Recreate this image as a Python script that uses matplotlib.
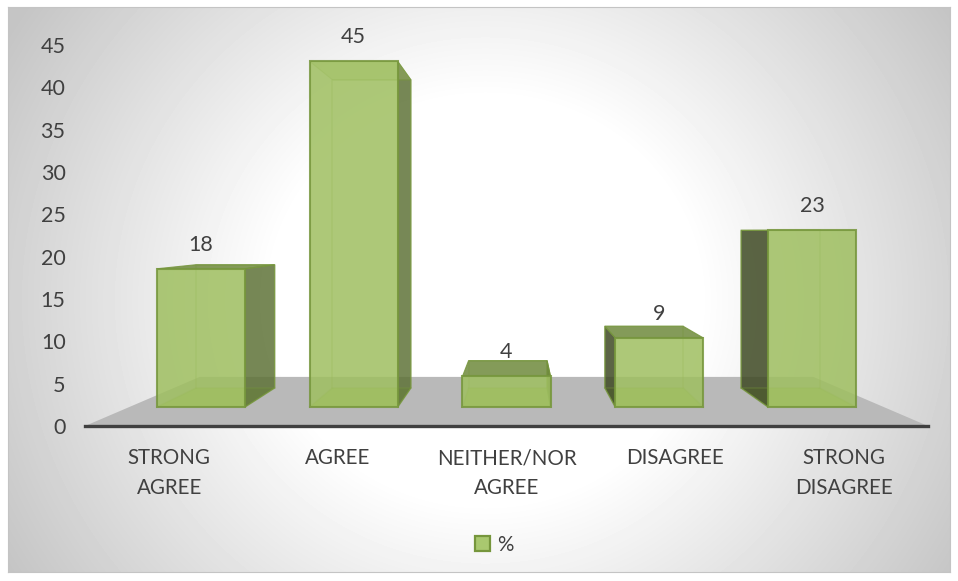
import numpy as np
import matplotlib
matplotlib.use("Agg")
import matplotlib.pyplot as plt
from matplotlib.patches import Polygon, Patch

categories = ["STRONG\nAGREE", "AGREE", "NEITHER/NOR\nAGREE", "DISAGREE", "STRONG\nDISAGREE"]
values = [18, 45, 4, 9, 23]
y_ticks = [0, 5, 10, 15, 20, 25, 30, 35, 40, 45]
series_name = "%"

W, H = 958, 581
plt.rcParams["font.family"] = ["Lato", "DejaVu Sans"]
TXT = "#404040"
fig = plt.figure(figsize=(W / 100, H / 100), dpi=100, facecolor="white")

# background panel with radial gradient
bg = fig.add_axes([8 / W, 1 - 572 / H, 942 / W, 565 / H])
yy, xx = np.mgrid[7:572, 8:950]
r = np.hypot((xx - 485) / 475, (yy - 300) / 450)
g = np.clip((r - 0.45) / 0.72, 0, 1)
shade = 1 - g * 0.23
bg.imshow(shade, cmap="gray", vmin=0, vmax=1, aspect="auto", interpolation="bilinear")
bg.set_xticks([]); bg.set_yticks([])
for s in bg.spines.values():
    s.set_color("#c4c4c4"); s.set_linewidth(0.8)

# plot axes: x axis spans 85..928 px, y=0 at 426 px, y=45 at 45 px
ax = fig.add_axes([85 / W, 1 - 426 / H, 843 / W, 381 / H])
ax.patch.set_alpha(0)
ax.set_xlim(-0.5, 4.5)
ax.set_ylim(0, 45)
ax.set_xticks(range(len(categories)))
ax.set_xticklabels(categories, fontsize=14.8, color=TXT, linespacing=1.62)
ax.set_yticks(y_ticks)
ax.tick_params(axis="y", length=0, labelsize=15.5, labelcolor=TXT, pad=14)
ax.tick_params(axis="x", length=0, pad=16)
for s in ("top", "left", "right"):
    ax.spines[s].set_visible(False)
ax.spines["bottom"].set_color("#404040")
ax.spines["bottom"].set_linewidth(2.4)
ax.spines["bottom"].set_zorder(6)

# perspective of the pseudo-3D box
VX, VY, S = 2.074, 23.03, 0.892          # vanishing point and depth scale
BASE, K = 2.244, 0.907                   # front-face base and value scale
XS, BW = 0.906, 0.522                    # front-face spread, bar width
def back(p):
    return (VX + (p[0] - VX) * S, VY + (p[1] - VY) * S)

# floor
floor = Polygon([(-0.5, 0), (4.5, 0), (4.5 - 0.68, 5.8), (-0.5 + 0.68, 5.8)],
                closed=True, fc="#b9b9b9", ec="none", zorder=1)
ax.add_patch(floor)

GREEN = (159 / 255, 191 / 255, 96 / 255)
EDGE = "#76963c"
for i, v in enumerate(values):
    cx = 2 + (i - 2) * XS
    l, r_ = cx - BW / 2, cx + BW / 2
    b, t = BASE, BASE + K * v
    fbl, fbr, ftr, ftl = (l, b), (r_, b), (r_, t), (l, t)
    bbl, bbr, btr, btl = back(fbl), back(fbr), back(ftr), back(ftl)
    # inner faces
    ax.add_patch(Polygon([fbl, fbr, bbr, bbl], fc=GREEN, alpha=0.7, ec="none", zorder=2))
    # side face
    if cx < VX:
        side = [fbr, ftr, btr, bbr]; col = "#5f7338"
    else:
        side = [fbl, ftl, btl, bbl]; col = "#3f4a24"
    ax.add_patch(Polygon(side, fc=col, alpha=0.85, ec=EDGE, lw=0.8, zorder=3))
    # top cap: seen from above when the back edge rises past the front edge
    cap = [ftl, ftr, btr, btl]
    seen = btl[1] > ftl[1] + 0.05
    ax.add_patch(Polygon(cap, fc="#6f8a3c" if seen else GREEN, alpha=0.85 if seen else 0.35,
                         ec=EDGE, lw=0.8, zorder=3))
    # inner edges
    ax.plot([bbl[0], bbr[0], btr[0], btl[0], bbl[0]], [bbl[1], bbr[1], btr[1], btl[1], bbl[1]],
            color=EDGE, alpha=0.3, lw=1.2, zorder=4)
    ax.plot([fbl[0], bbl[0]], [fbl[1], bbl[1]], color=EDGE, alpha=0.3, lw=1.2, zorder=4)
    ax.plot([fbr[0], bbr[0]], [fbr[1], bbr[1]], color=EDGE, alpha=0.3, lw=1.2, zorder=4)
    # front face
    ax.add_patch(Polygon([fbl, fbr, ftr, ftl], fc=GREEN, alpha=0.85, ec=EDGE, lw=1.5, zorder=5))
    ax.annotate(str(v), (cx, t), xytext=(0, 24), textcoords="offset pixels",
                ha="center", va="center", fontsize=15.5, color=TXT, zorder=7)

# legend
leg = fig.legend(handles=[Patch(fc="#a9c86f", ec=EDGE, lw=1.6, label=series_name)],
                 loc="center", bbox_to_anchor=(494 / W, 1 - 545 / H), frameon=False,
                 fontsize=14.8, labelcolor=TXT, handlelength=0.75, handleheight=0.75,
                 handletextpad=0.35)

fig.savefig("out.png", dpi=100)
